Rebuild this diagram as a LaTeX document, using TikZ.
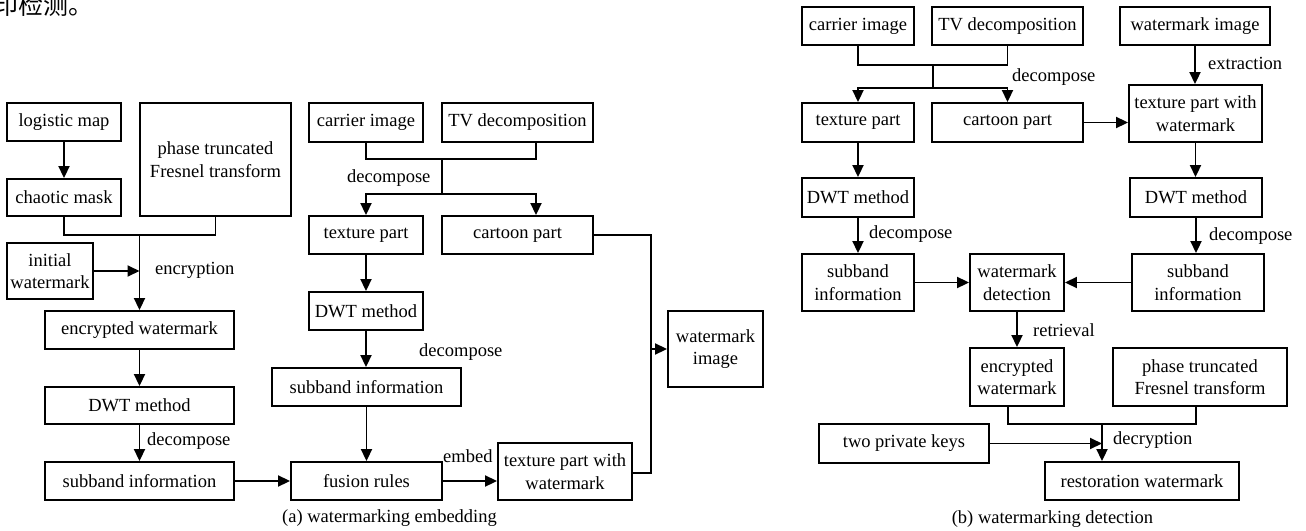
\documentclass[tikz,border=0pt]{standalone}
\usepackage{fontspec}
\setmainfont{Liberation Serif}
\newfontfamily\cjk{Noto Sans CJK SC}
\usetikzlibrary{arrows.meta}
\newcommand\myfs{\fontsize{18.5}{22.5}\selectfont}
\begin{document}
\begin{tikzpicture}[x=1pt,y=-1pt,
  box/.style={draw,line width=1.9pt,inner sep=0pt,align=center,font=\myfs},
  arr/.style={line width=1.9pt,-{Triangle[length=12pt,width=11pt]}},
  ln/.style={line width=1.9pt},
  lbl/.style={anchor=west,inner sep=0pt,font=\myfs},
  captext/.style={inner sep=0pt,font=\myfs}]
\useasboundingbox (0,0) rectangle (1306,530);
\node[anchor=base west,inner sep=0pt,font=\cjk\fontsize{25}{25}\selectfont] (top) at (-7,14) {印检测。};
% ---------- (a) ----------
\node[box,minimum width=114pt,minimum height=38pt] (lm) at (64,122) {logistic map};
\node[box,minimum width=114pt,minimum height=37pt] (cm) at (64,197.5) {chaotic mask};
\node[box,minimum width=151pt,minimum height=113pt] (pt) at (215.5,159.5) {phase truncated\\Fresnel transform};
\node[box,minimum width=86pt,minimum height=56pt] (iw) at (50,271) {initial\\watermark};
\node[box,minimum width=189pt,minimum height=38pt] (ew) at (139.5,330) {encrypted watermark};
\node[box,minimum width=189pt,minimum height=37pt] (dwt1) at (139.5,405.5) {DWT method};
\node[box,minimum width=189pt,minimum height=38pt] (sb1) at (139.5,481) {subband information};
\node[box,minimum width=114pt,minimum height=39pt] (ci) at (366,122.5) {carrier image};
\node[box,minimum width=151pt,minimum height=39pt] (tv) at (517.5,122.5) {TV decomposition};
\node[box,minimum width=114pt,minimum height=38pt] (tp) at (366,235) {texture part};
\node[box,minimum width=151pt,minimum height=38pt] (cp) at (517.5,235) {cartoon part};
\node[box,minimum width=114pt,minimum height=38pt] (dwt2) at (366,311) {DWT method};
\node[box,minimum width=189pt,minimum height=38pt] (sb2) at (366.5,387) {subband information};
\node[box,minimum width=151pt,minimum height=38pt] (fr) at (366.5,481) {fusion rules};
\node[box,minimum width=134pt,minimum height=57pt] (tw) at (565,471.5) {texture part with\\watermark};
\node[box,minimum width=95pt,minimum height=76pt] (wi) at (715.5,349) {watermark\\image};
\coordinate (j1) at (139.5,235);
\coordinate (j2) at (442,159);
\coordinate (j3) at (442,194);
\coordinate (j4) at (651,349);
\draw[arr] (lm) -- (cm);
\draw[ln] (cm.south) |- (j1) -| (pt.south);
\draw[arr] (j1) -- (ew.north);
\draw[arr] (iw.east) -- (iw.east -| j1);
\draw[arr] (ew) -- (dwt1);
\draw[arr] (dwt1) -- (sb1);
\draw[arr] (sb1) -- (fr);
\draw[ln] (ci.south) |- (j2) -| ([xshift=18.5pt]tv.south);
\draw[ln] (j2) -- (j3);
\draw[arr] (j3) -| (tp.north);
\draw[arr] (j3) -| ([xshift=18.5pt]cp.north);
\draw[arr] (tp) -- (dwt2);
\draw[arr] (dwt2.south) -- (dwt2.south |- sb2.north);
\draw[arr] (sb2.south) -- (sb2.south |- fr.north);
\draw[arr] (fr) -- (fr.east -| tw.west);
\draw[ln] (cp.east) -| (j4);
\draw[ln] ([yshift=-1.5pt]tw.east) -| (j4);
\draw[arr] (j4) -- (wi.west);
\node[lbl] (l1) at (155,270) {encryption};
\node[lbl] (l2) at (147,441) {decompose};
\node[lbl] (l3) at (347,178) {decompose};
\node[lbl] (l4) at (419,352) {decompose};
\node[lbl] (l5) at (443,456) {embed};
\node[captext] (capa) at (389.5,518) {(a) watermarking embedding};
% ---------- (b) ----------
\node[box,minimum width=112pt,minimum height=38pt] (ci2) at (858,26) {carrier image};
\node[box,minimum width=151pt,minimum height=38pt] (tv2) at (1007.5,26) {TV decomposition};
\node[box,minimum width=150pt,minimum height=38pt] (wim) at (1195,26) {watermark image};
\node[box,minimum width=112pt,minimum height=39pt] (tp2) at (858,122.5) {texture part};
\node[box,minimum width=151pt,minimum height=39pt] (cp2) at (1007.5,122.5) {cartoon part};
\node[box,minimum width=133pt,minimum height=57pt] (tw2) at (1195.5,113.5) {texture part with\\watermark};
\node[box,minimum width=112pt,minimum height=39pt] (dwtl) at (858,197.5) {DWT method};
\node[box,minimum width=132pt,minimum height=39pt] (dwtr) at (1196,197.5) {DWT method};
\node[box,minimum width=112pt,minimum height=57pt] (sbl) at (858,282.5) {subband\\information};
\node[box,minimum width=94pt,minimum height=57pt] (wd) at (1017,282.5) {watermark\\detection};
\node[box,minimum width=132pt,minimum height=57pt] (sbr) at (1198,282.5) {subband\\information};
\node[box,minimum width=94pt,minimum height=58pt] (ew2) at (1017,377) {encrypted\\watermark};
\node[box,minimum width=174pt,minimum height=58pt] (pt2) at (1200,377) {phase truncated\\Fresnel transform};
\node[box,minimum width=170pt,minimum height=39pt] (pk) at (904,443.5) {two private keys};
\node[box,minimum width=194pt,minimum height=38pt] (rw) at (1142,481) {restoration watermark};
\coordinate (k1) at (933,65);
\coordinate (k2) at (933,88);
\coordinate (k3) at (1102,424);
\draw[ln] (ci2.south) |- (k1) -| (tv2.south);
\draw[ln] (k1) -- (k2);
\draw[arr] (k2) -| (tp2.north);
\draw[arr] (k2) -| (cp2.north);
\draw[arr] (wim.south) -- (wim.south |- tw2.north);
\draw[arr] (cp2.east) -- (cp2.east -| tw2.west);
\draw[arr] (tp2) -- (dwtl);
\draw[arr] (tw2.south) -- (tw2.south |- dwtr.north);
\draw[arr] (dwtl) -- (sbl);
\draw[arr] (dwtr.south) -- (dwtr.south |- sbr.north);
\draw[arr] (sbl) -- (wd);
\draw[arr] (sbr) -- (wd);
\draw[arr] (wd) -- (ew2);
\draw[ln] ([xshift=-9pt]ew2.south) |- (k3) -| ([xshift=-4pt]pt2.south);
\draw[arr] (k3) -- (k3 |- rw.north);
\draw[arr] (pk.east) -- (pk.east -| k3);
\node[lbl] (m1) at (1012,77) {decompose};
\node[lbl] (m2) at (1208,63) {extraction};
\node[lbl] (m3) at (869,234) {decompose};
\node[lbl] (m4) at (1209,236) {decompose};
\node[lbl] (m5) at (1033,330) {retrieval};
\node[lbl] (m6) at (1113,440) {decryption};
\node[captext] (capb) at (1052.5,519) {(b) watermarking detection};
\end{tikzpicture}
\end{document}
